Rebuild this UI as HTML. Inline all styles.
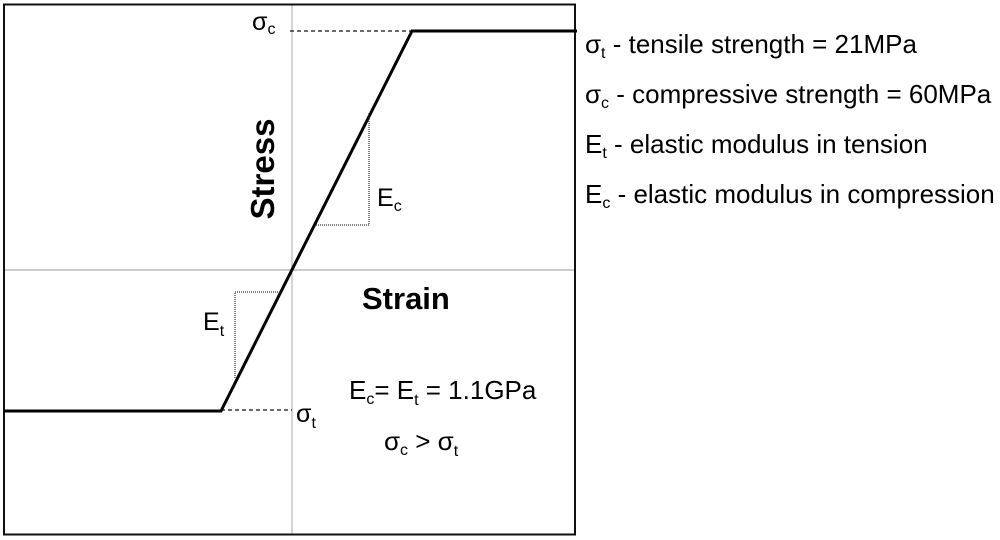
<!DOCTYPE html>
<html><head><style>
body{margin:0;background:#fff;}
svg{display:block;font-family:"Liberation Sans",sans-serif;}
</style></head><body>
<svg width="1000" height="540" viewBox="0 0 1000 540">
<line x1="292" y1="5" x2="292" y2="534" stroke="#aaa" stroke-width="1"/>
<line x1="4" y1="270" x2="575" y2="270" stroke="#bbb" stroke-width="1.5"/>
<rect x="4" y="4.5" width="571" height="530" fill="none" stroke="#111" stroke-width="2"/>
<line x1="290" y1="31" x2="412" y2="31" stroke="#111" stroke-width="1.3" stroke-dasharray="4,3"/>
<line x1="221" y1="410" x2="292" y2="410" stroke="#111" stroke-width="1.3" stroke-dasharray="4,3"/>
<polyline points="4,411 221,411 412,31 577,31" fill="none" stroke="#000" stroke-width="3"/>
<polyline points="316,225 369,225 369,112" fill="none" stroke="#333" stroke-width="1.2" stroke-dasharray="1,1"/>
<polyline points="235,378 235,292 281,292" fill="none" stroke="#333" stroke-width="1.2" stroke-dasharray="1,1"/>
<g font-size="25" fill="#000">
<text x="252" y="30">σ<tspan font-size="16" dy="4">c</tspan></text>
<text x="296" y="422">σ<tspan font-size="16" dy="6">t</tspan></text>
<text x="377" y="206">E<tspan font-size="16" dy="5">c</tspan></text>
<text x="203" y="330">E<tspan font-size="16" dy="6">t</tspan></text>
<text x="349" y="399" font-size="26">E<tspan font-size="16" dy="5">c</tspan><tspan dy="-5">= E</tspan><tspan font-size="16" dy="6">t</tspan><tspan dy="-6"> = 1.1GPa</tspan></text>
<text x="384" y="450" font-size="26">σ<tspan font-size="16" dy="5">c</tspan><tspan dy="-5"> &gt; σ</tspan><tspan font-size="16" dy="6">t</tspan></text>
<text x="585" y="53" font-size="26">σ<tspan font-size="16" dy="5">t</tspan><tspan dy="-5"> - tensile strength = 21MPa</tspan></text>
<text x="585" y="103" font-size="26">σ<tspan font-size="16" dy="5">c</tspan><tspan dy="-5"> - compressive strength = 60MPa</tspan></text>
<text x="585" y="153" font-size="26">E<tspan font-size="16" dy="5">t</tspan><tspan dy="-5"> - elastic modulus in tension</tspan></text>
<text x="585" y="203" font-size="26">E<tspan font-size="16" dy="5">c</tspan><tspan dy="-5"> - elastic modulus in compression</tspan></text>
</g>
<text x="362" y="309" font-size="31" font-weight="bold">Strain</text>
<text transform="translate(274,169) rotate(-90)" text-anchor="middle" font-size="33" font-weight="bold">Stress</text>
</svg>
</body></html>
